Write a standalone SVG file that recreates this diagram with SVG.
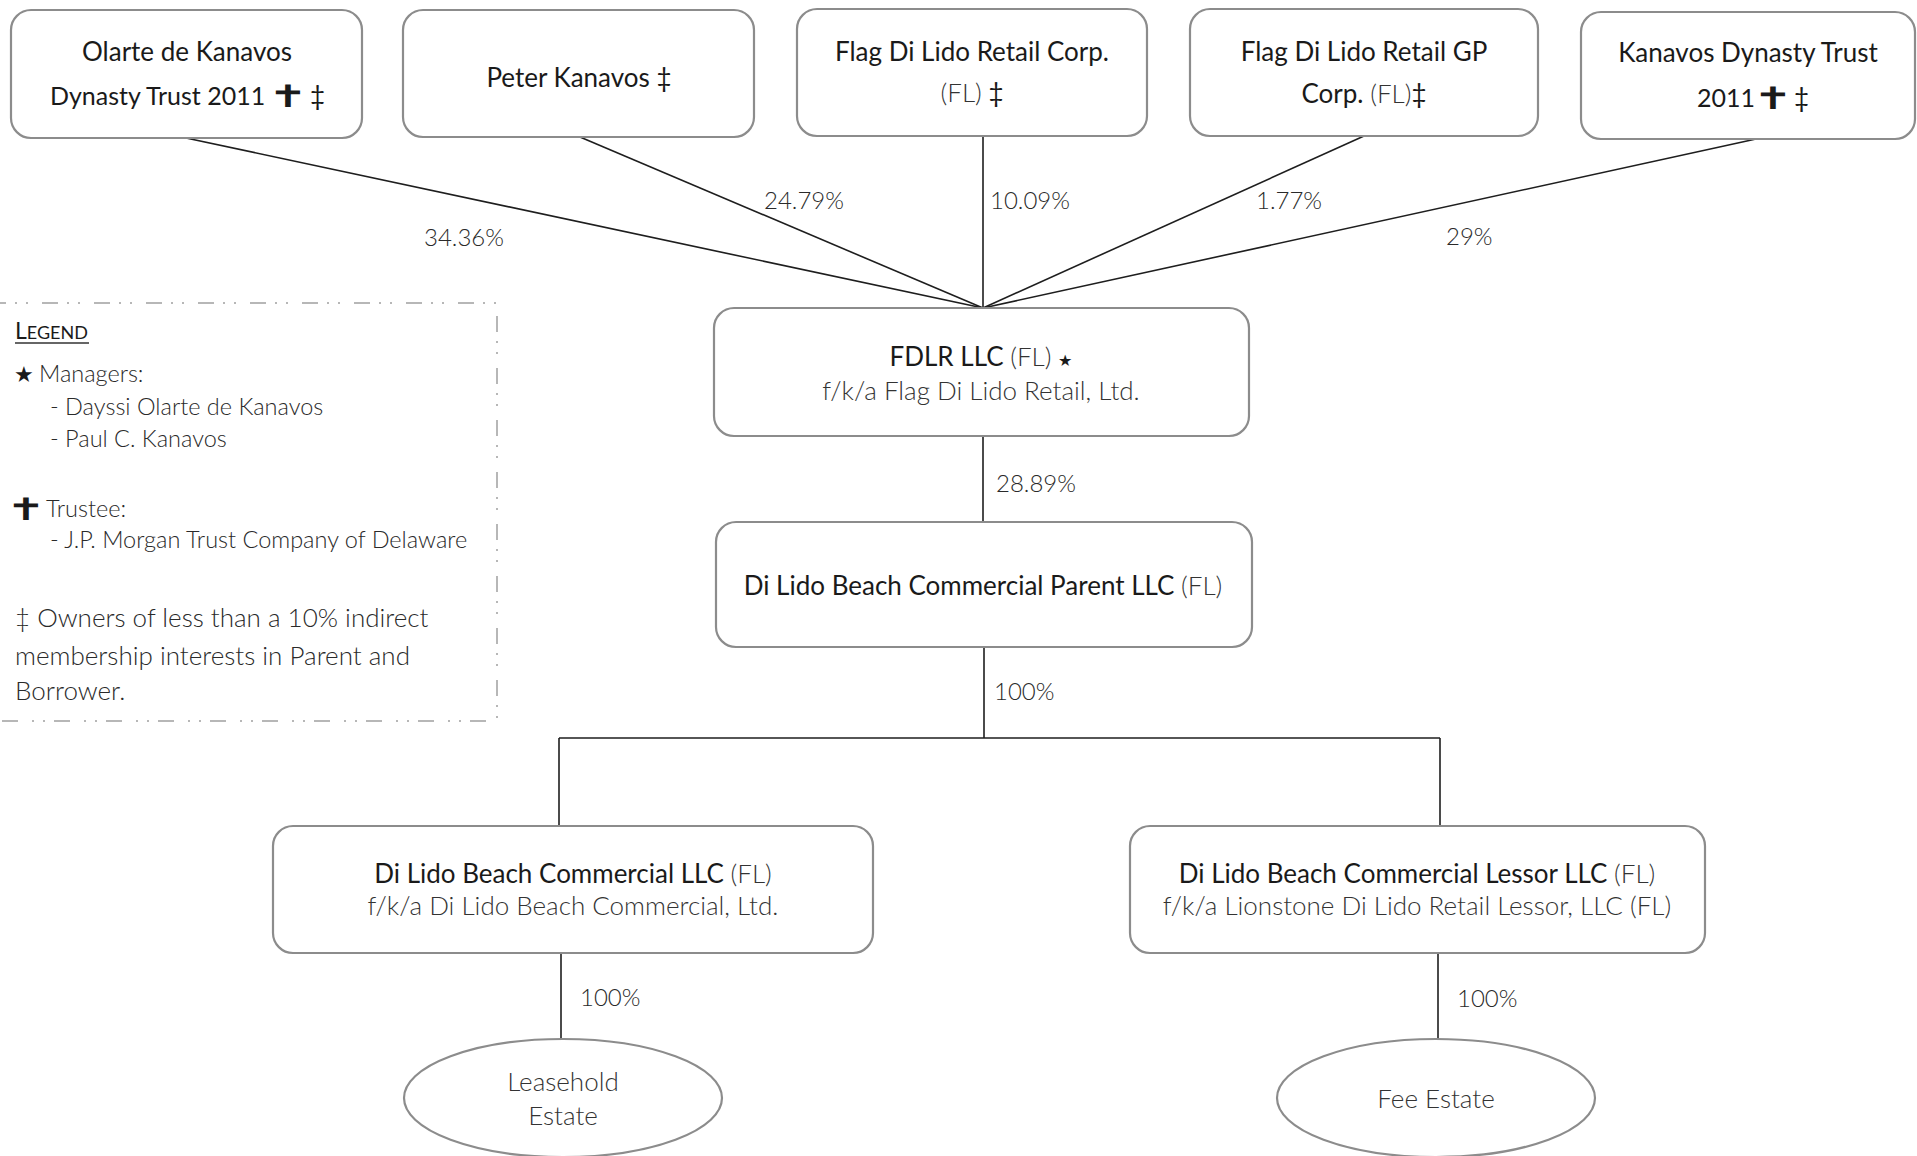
<svg xmlns="http://www.w3.org/2000/svg" width="1917" height="1156" viewBox="0 0 1917 1156">
  <style>
    .bg{fill:#ffffff}
    .box{fill:#ffffff;stroke:#8c8c8c;stroke-width:2.2}
    .link{stroke:#1e1e1e;stroke-width:1.6;fill:none}
    .t{font-family:Lato,"Open Sans","Liberation Sans","DejaVu Sans",sans-serif;fill:#1a1a1a}
    .c{text-anchor:middle}
    .top{font-size:26px}
    .mid{font-size:26px}
    .lt{fill:#333333;font-weight:300}
    .pct{font-size:24px;fill:#2a2a2a;font-weight:300}
    .sym{font-family:"DejaVu Sans",sans-serif}
    .cross{font-family:"DejaVu Sans",sans-serif;font-size:28px;fill:#1a1a1a}
    .leg{font-size:23.5px;fill:#2a2a2a;font-weight:300}
    .legbig{font-size:26px;fill:#2a2a2a;font-weight:300}
    .legbox{fill:none;stroke:#a0a0a0;stroke-width:1.5;stroke-dasharray:16 9 2 9 2 14}
  </style>

  <rect class="bg" x="0" y="0" width="1917" height="1156"/>

  <!-- ownership connectors -->
  <g id="connectors">
    <line class="link" x1="186" y1="138" x2="983" y2="308"/>
    <line class="link" x1="580" y1="137" x2="983" y2="308"/>
    <line class="link" x1="983" y1="136" x2="983" y2="308"/>
    <line class="link" x1="1364" y1="136" x2="983" y2="308"/>
    <line class="link" x1="1756" y1="139" x2="983" y2="308"/>
    <line class="link" x1="983" y1="436" x2="983" y2="522"/>
    <line class="link" x1="984" y1="647" x2="984" y2="738"/>
    <line class="link" x1="559" y1="738" x2="1440" y2="738"/>
    <line class="link" x1="559" y1="738" x2="559" y2="826"/>
    <line class="link" x1="1440" y1="738" x2="1440" y2="826"/>
    <line class="link" x1="561" y1="953" x2="561" y2="1039"/>
    <line class="link" x1="1438" y1="953" x2="1438" y2="1039"/>
    <g class="t pct">
      <text x="424" y="246">34.36%</text>
      <text x="764" y="209">24.79%</text>
      <text x="990" y="209">10.09%</text>
      <text x="1256" y="209">1.77%</text>
      <text x="1446" y="245">29%</text>
      <text x="996" y="492">28.89%</text>
      <text x="994" y="700">100%</text>
      <text x="580" y="1006">100%</text>
      <text x="1457" y="1007">100%</text>
    </g>
  </g>

  <!-- top-tier owners -->
  <g id="olarte-trust">
    <rect class="box" x="11" y="10" width="351" height="128" rx="20"/>
    <text class="t c top" x="187" y="61">Olarte de Kanavos</text>
    <text class="t" x="50" y="105" font-size="25">Dynasty Trust 2011</text>
    <text class="cross" transform="translate(268 107) scale(1.7 1.1)">✝</text>
    <text class="t top" x="310" y="105">‡</text>
  </g>
  <g id="peter-kanavos">
    <rect class="box" x="403" y="10" width="351" height="127" rx="20"/>
    <text class="t c top" x="579" y="87">Peter Kanavos ‡</text>
  </g>
  <g id="fdl-retail-corp">
    <rect class="box" x="797" y="9" width="350" height="127" rx="20"/>
    <text class="t c top" x="972" y="61">Flag Di Lido Retail Corp.</text>
    <text class="t c top" x="972" y="102"><tspan class="lt">(FL)</tspan> ‡</text>
  </g>
  <g id="fdl-retail-gp">
    <rect class="box" x="1190" y="9" width="348" height="127" rx="20"/>
    <text class="t c top" x="1364" y="61">Flag Di Lido Retail GP</text>
    <text class="t c top" x="1364" y="103">Corp. <tspan class="lt">(FL)</tspan>‡</text>
  </g>
  <g id="kanavos-trust">
    <rect class="box" x="1581" y="12" width="334" height="127" rx="20"/>
    <text class="t c top" x="1748" y="62">Kanavos Dynasty Trust</text>
    <text class="t" x="1697" y="107" font-size="25">2011</text>
    <text class="cross" transform="translate(1753 109) scale(1.7 1.1)">✝</text>
    <text class="t top" x="1794" y="107">‡</text>
  </g>

  <!-- holding entities -->
  <g id="fdlr">
    <rect class="box" x="714" y="308" width="535" height="128" rx="20"/>
    <text class="t c mid" x="981" y="366">FDLR LLC <tspan class="lt">(FL)</tspan> <tspan class="sym" font-size="16">★</tspan></text>
    <text class="t c mid lt" x="981" y="400" font-size="25.5">f/k/a Flag Di Lido Retail, Ltd.</text>
  </g>
  <g id="parent">
    <rect class="box" x="716" y="522" width="536" height="125" rx="20"/>
    <text class="t c mid" x="983" y="595">Di Lido Beach Commercial Parent LLC <tspan class="lt">(FL)</tspan></text>
  </g>
  <g id="borrower">
    <rect class="box" x="273" y="826" width="600" height="127" rx="20"/>
    <text class="t c mid" x="573" y="883">Di Lido Beach Commercial LLC <tspan class="lt">(FL)</tspan></text>
    <text class="t c mid lt" x="573" y="915" font-size="27">f/k/a Di Lido Beach Commercial, Ltd.</text>
  </g>
  <g id="lessor">
    <rect class="box" x="1130" y="826" width="575" height="127" rx="20"/>
    <text class="t c mid" x="1417" y="883">Di Lido Beach Commercial Lessor LLC <tspan class="lt">(FL)</tspan></text>
    <text class="t c mid lt" x="1417" y="915">f/k/a Lionstone Di Lido Retail Lessor, LLC (FL)</text>
  </g>

  <!-- estates -->
  <g id="leasehold-estate">
    <ellipse class="box" cx="563" cy="1098" rx="159" ry="59"/>
    <text class="t c mid lt" x="563" y="1091">Leasehold</text>
    <text class="t c mid lt" x="563" y="1125">Estate</text>
  </g>
  <g id="fee-estate">
    <ellipse class="box" cx="1436" cy="1098" rx="159" ry="59"/>
    <text class="t c mid lt" x="1436" y="1108">Fee Estate</text>
  </g>

  <!-- legend -->
  <g id="legend">
    <rect class="legbox" x="-10" y="303" width="507" height="418"/>
    <text class="t" x="15" y="339" fill="#2a2a2a"><tspan font-size="23">L</tspan><tspan font-size="18">EGEND</tspan></text>
    <line x1="15" y1="343" x2="89" y2="343" stroke="#333333" stroke-width="1.4"/>
    <text class="sym" x="14" y="382" font-size="22" fill="#1a1a1a">★</text>
    <text class="t leg" x="39" y="382">Managers:</text>
    <text class="t leg" x="50" y="415">- Dayssi Olarte de Kanavos</text>
    <text class="t leg" x="50" y="447">- Paul C. Kanavos</text>
    <text class="cross" transform="translate(6 520) scale(1.7 1.1)">✝</text>
    <text class="t leg" x="46" y="517">Trustee:</text>
    <text class="t leg" x="50" y="548">- J.P. Morgan Trust Company of Delaware</text>
    <text class="t legbig" x="15" y="627">‡ Owners of less than a 10% indirect</text>
    <text class="t legbig" x="15" y="665">membership interests in Parent and</text>
    <text class="t legbig" x="15" y="700">Borrower.</text>
  </g>
</svg>
